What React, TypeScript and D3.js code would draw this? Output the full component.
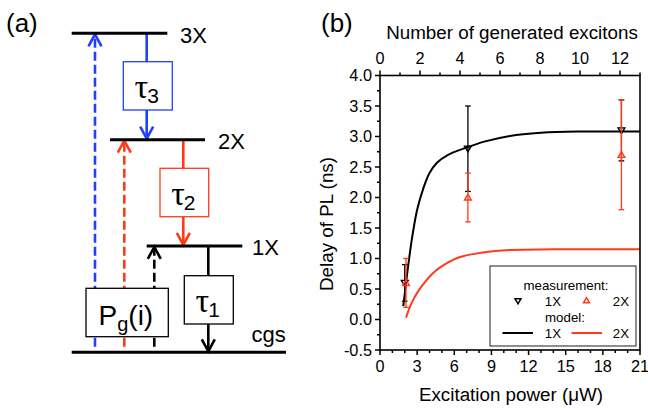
import React from "react";
import * as d3 from "d3";

// ---------- Data (panel b) ----------
const powerTicks = [0, 3, 6, 9, 12, 15, 18, 21];
const excitonTicks = [0, 2, 4, 6, 8, 10, 12];
const delayTicks = [-0.5, 0, 0.5, 1.0, 1.5, 2.0, 2.5, 3.0, 3.5, 4.0];

const meas1XPower = [2.0, 7.1, 19.5];
const meas1X = [0.6, 2.8, 3.1];
const meas1XLow = [0.3, 2.1, 2.6];
const meas1XHigh = [0.9, 3.5, 3.6];

const meas2XPower = [2.1, 7.1, 19.5];
const meas2X = [0.6, 2.0, 2.7];
const meas2XLow = [0.2, 1.6, 1.8];
const meas2XHigh = [1.0, 2.4, 3.6];

const model1XPower = [1.88, 2.0, 2.1, 2.3, 2.6, 3.0, 3.5, 4.0, 4.6, 5.5, 7.0, 8.5, 10.5, 13, 16, 21];
const model1X = [0.22, 0.42, 0.6, 0.92, 1.35, 1.8, 2.15, 2.4, 2.57, 2.7, 2.82, 2.92, 3.01, 3.06, 3.08, 3.08];

const model2XPower = [2.1, 2.4, 2.7, 3.1, 3.5, 4.0, 4.5, 5.2, 6.4, 8.3, 10.5, 14, 21];
const model2X = [0.03, 0.2, 0.33, 0.47, 0.58, 0.7, 0.8, 0.9, 1.02, 1.1, 1.14, 1.15, 1.15];

// ---------- Data (panel a) ----------
const levelNames = ["cgs", "1X", "2X", "3X"];
const levelEnergy = [0, 1, 2, 3];

const BLUE = "#2040ff";
const RED = "#ff3a1a";
const FONT = "'Liberation Sans', Arial, Helvetica, sans-serif";

function PanelA() {
  const yL = d3.scaleLinear().domain([0, 3]).range([352.3, 33.3]);
  const levelX: Record<string, [number, number]> = {
    cgs: [71.7, 286],
    "1X": [146.7, 242.3],
    "2X": [110, 205],
    "3X": [71.7, 167.3],
  };
  const labelPos: Record<string, [number, number]> = {
    cgs: [251.5, 342],
    "1X": [252, 254.5],
    "2X": [218, 148.5],
    "3X": [180, 42.5],
  };
  const up = (x: number, yTip: number) =>
    `M${x - 6.5},${yTip + 12} L${x},${yTip} L${x + 6.5},${yTip + 12}`;
  const down = (x: number, yTip: number) =>
    `M${x - 6.5},${yTip - 12} L${x},${yTip} L${x + 6.5},${yTip - 12}`;
  const yOf = (n: string) => yL(levelEnergy[levelNames.indexOf(n)]);
  const dashBottom = 346.7;
  const pump = [
    { x: 95, to: "3X", color: BLUE },
    { x: 124.3, to: "2X", color: RED },
    { x: 154.3, to: "1X", color: "#000" },
  ];
  const decays = [
    { x: 146.7, from: "3X", to: "2X", color: BLUE, box: [123.3, 61.7, 49, 48.3], sub: "3" },
    { x: 183.3, from: "2X", to: "1X", color: RED, box: [160, 168.3, 48.7, 48.4], sub: "2" },
    { x: 208.3, from: "1X", to: "cgs", color: "#000", box: [184.3, 275.7, 49, 48.3], sub: "1" },
  ];
  return (
    <g>
      <text x={6} y={32} fontFamily={FONT} fontSize={26}>(a)</text>
      {pump.map((p) => (
        <g key={p.to}>
          <line x1={p.x} x2={p.x} y1={dashBottom} y2={yOf(p.to) + 1.5} stroke={p.color}
            strokeWidth={2.6} strokeDasharray="9 4" />
          <path d={up(p.x, yOf(p.to) + 1)} fill="none" stroke={p.color} strokeWidth={2.6} />
        </g>
      ))}
      <rect x={86} y={288.3} width={82.3} height={48.4} fill="#fff" stroke="#000" strokeWidth={1.3} />
      <text x={98.5} y={325} fontFamily={FONT} fontSize={28}>
        P<tspan fontSize={20} dy={6}>g</tspan><tspan dy={-6}>(i)</tspan>
      </text>
      {decays.map((d) => {
        const [bx, by, bw, bh] = d.box;
        return (
          <g key={d.sub}>
            <line x1={d.x} x2={d.x} y1={yOf(d.from)} y2={by} stroke={d.color} strokeWidth={2.6} />
            <line x1={d.x} x2={d.x} y1={by + bh} y2={yOf(d.to) - 1.5} stroke={d.color} strokeWidth={2.6} />
            <path d={down(d.x, yOf(d.to) - 1)} fill="none" stroke={d.color} strokeWidth={2.6} />
            <rect x={bx} y={by} width={bw} height={bh} fill="#fff" stroke={d.color} strokeWidth={1.3} />
            <text x={bx + bw / 2 - 1} y={by + bh / 2 + 12} textAnchor="middle" fontFamily="'Liberation Serif', 'Times New Roman', serif" fontSize={34}>
              τ<tspan fontFamily={FONT} fontSize={21} dy={5} dx={-1}>{d.sub}</tspan>
            </text>
          </g>
        );
      })}
      {levelNames.map((n) => (
        <g key={n}>
          <line x1={levelX[n][0]} x2={levelX[n][1]} y1={yOf(n)} y2={yOf(n)} stroke="#000" strokeWidth={3} />
          <text x={labelPos[n][0]} y={labelPos[n][1]} fontFamily={FONT} fontSize={22}>{n}</text>
        </g>
      ))}
    </g>
  );
}

function PanelB() {
  const left = 380, right = 640, top = 75.5, bottom = 350;
  const x = d3.scaleLinear().domain([0, 21]).range([left, right]);
  const xTop = d3.scaleLinear().domain([0, 13]).range([left, right]);
  const y = d3.scaleLinear().domain([-0.5, 4.0]).range([bottom, top]);

  const line = d3.line<[number, number]>().x((d) => x(d[0])).y((d) => y(d[1])).curve(d3.curveCatmullRom.alpha(0.5));
  const m1 = line(model1XPower.map((p, i) => [p, model1X[i]]))!;
  const m2 = line(model2XPower.map((p, i) => [p, model2X[i]]))!;

  const minorX = d3.range(0, 22, 1).filter((v) => v % 3 !== 0);
  const minorTop = d3.range(0, 14, 1).filter((v) => v % 2 !== 0);
  const minorY = d3.range(-0.25, 4.0, 0.5);

  const tri = (cx: number, cy: number, dir: 1 | -1, s = 3.4) =>
    dir === -1
      ? `M${cx - s},${cy - s * 0.75} L${cx + s},${cy - s * 0.75} L${cx},${cy + s * 0.95} Z`
      : `M${cx - s},${cy + s * 0.75} L${cx + s},${cy + s * 0.75} L${cx},${cy - s * 0.95} Z`;

  const errBar = (px: number, lo: number, hi: number, color: string, key: string) => (
    <g key={key} stroke={color} strokeWidth={1.3}>
      <line x1={x(px)} x2={x(px)} y1={y(lo)} y2={y(hi)} />
      <line x1={x(px) - 2.8} x2={x(px) + 2.8} y1={y(lo)} y2={y(lo)} />
      <line x1={x(px) - 2.8} x2={x(px) + 2.8} y1={y(hi)} y2={y(hi)} />
    </g>
  );

  return (
    <g fontFamily={FONT}>
      <text x={321} y={32} fontSize={26}>(b)</text>
      <text x={512} y={39} textAnchor="middle" fontSize={18.8}>Number of generated excitons</text>
      <text x={511} y={401} textAnchor="middle" fontSize={18.8}>Excitation power (μW)</text>
      <text transform={`translate(333,224) rotate(-90)`} textAnchor="middle" fontSize={18.8}>Delay of PL (ns)</text>

      {/* model curves */}
      <path d={m2} fill="none" stroke={RED} strokeWidth={2} />
      <path d={m1} fill="none" stroke="#000" strokeWidth={2} />

      {/* measurements */}
      {meas1XPower.map((p, i) => errBar(p, meas1XLow[i], meas1XHigh[i], "#000", "e1" + i))}
      {meas1XPower.map((p, i) => (
        <path key={"t1" + i} d={tri(x(p), y(meas1X[i]), -1)} fill="none" stroke="#000" strokeWidth={1.4} />
      ))}
      {meas2XPower.map((p, i) => errBar(p, meas2XLow[i], meas2XHigh[i], RED, "e2" + i))}
      {meas2XPower.map((p, i) => (
        <path key={"t2" + i} d={tri(x(p), y(meas2X[i]), 1)} fill="none" stroke={RED} strokeWidth={1.4} />
      ))}

      {/* legend */}
      <rect x={490} y={266} width={146} height={80} fill="#fff" stroke="#444" strokeWidth={1.2} />
      <g fontSize={13.3}>
        <text x={566} y={289.5} textAnchor="middle">measurement:</text>
        <path d={tri(518, 301, -1, 3)} fill="none" stroke="#000" strokeWidth={1.5} />
        <text x={553} y={306} textAnchor="middle">1X</text>
        <path d={tri(586.5, 300.5, 1, 3)} fill="none" stroke={RED} strokeWidth={1.5} />
        <text x={621} y={306} textAnchor="middle">2X</text>
        <text x={565} y={322} textAnchor="middle">model:</text>
        <line x1={502.5} x2={533} y1={333} y2={333} stroke="#000" strokeWidth={2} />
        <text x={553} y={338} textAnchor="middle">1X</text>
        <line x1={571.5} x2={602} y1={333} y2={333} stroke={RED} strokeWidth={2} />
        <text x={621} y={338} textAnchor="middle">2X</text>
      </g>

      {/* frame */}
      <rect x={left} y={top} width={right - left} height={bottom - top} fill="none" stroke="#000" strokeWidth={1.6} />

      {/* bottom axis */}
      {powerTicks.map((t) => (
        <g key={"bx" + t}>
          <line x1={x(t)} x2={x(t)} y1={bottom} y2={bottom + 5} stroke="#000" strokeWidth={1.5} />
          <text x={x(t)} y={372} textAnchor="middle" fontSize={16.3}>{t}</text>
        </g>
      ))}
      {minorX.map((t) => (
        <line key={"mx" + t} x1={x(t)} x2={x(t)} y1={bottom} y2={bottom + 3} stroke="#000" strokeWidth={1.5} />
      ))}

      {/* top axis */}
      {excitonTicks.map((t) => (
        <g key={"tx" + t}>
          <line x1={xTop(t)} x2={xTop(t)} y1={top} y2={top - 5} stroke="#000" strokeWidth={1.5} />
          <text x={xTop(t)} y={64} textAnchor="middle" fontSize={16.3}>{t}</text>
        </g>
      ))}
      {minorTop.map((t) => (
        <line key={"mt" + t} x1={xTop(t)} x2={xTop(t)} y1={top} y2={top - 3} stroke="#000" strokeWidth={1.5} />
      ))}

      {/* left axis */}
      {delayTicks.map((t) => (
        <g key={"ly" + t}>
          <line x1={left} x2={left - 5} y1={y(t)} y2={y(t)} stroke="#000" strokeWidth={1.5} />
          <text x={372} y={y(t) + 5.8} textAnchor="end" fontSize={16.3}>{t.toFixed(1)}</text>
        </g>
      ))}
      {minorY.map((t) => (
        <line key={"my" + t} x1={left} x2={left - 3} y1={y(t)} y2={y(t)} stroke="#000" strokeWidth={1.5} />
      ))}
    </g>
  );
}

export default function App() {
  return (
    <div style={{ position: "absolute", left: 0, top: 0 }}>
      <svg width={648} height={412} viewBox="0 0 648 412" style={{ display: "block", background: "#fff" }}>
        <rect width={648} height={412} fill="#fff" />
        <PanelA />
        <PanelB />
      </svg>
    </div>
  );
}
